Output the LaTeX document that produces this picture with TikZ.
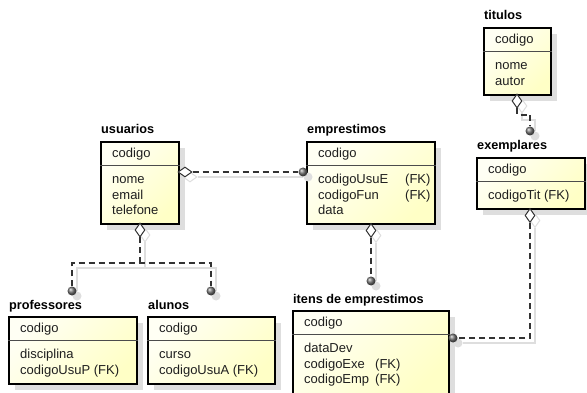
\documentclass[tikz,border=0pt]{standalone}
\usepackage{fontspec}
\setmainfont{Liberation Sans}
\usetikzlibrary{shapes.geometric,shadows,calc}
\definecolor{eyA}{RGB}{255,255,244}
\definecolor{eyB}{RGB}{255,255,198}
\definecolor{lnC}{RGB}{51,51,51}
\definecolor{shC}{RGB}{222,222,222}
\tikzset{
 ebox/.style={draw=black, line width=1.9pt, top color=eyA, bottom color=eyB, shading angle=45, inner sep=0pt,
   drop shadow={shadow xshift=6pt, shadow yshift=-6pt, fill=shC, opacity=1}},
 divline/.style={draw=black!70, line width=0.9pt},
 etext/.style={font=\fontsize{13}{15}\selectfont, text=black!88, inner sep=0pt},
 etitle/.style={font=\fontsize{12.7}{15}\selectfont\bfseries, text=black, inner sep=0pt},
 rel/.style={draw=lnC, line width=1.2pt, dash pattern=on 6pt off 4pt},
 relsh/.style={draw=shC, line width=1.2pt},
 hdia/.style={diamond, draw=lnC, fill=white, line width=1pt, inner sep=0pt, minimum width=14pt, minimum height=10pt},
 vdia/.style={hdia, minimum width=10pt, minimum height=14pt},
 hdiash/.style={hdia, draw=shC},
 vdiash/.style={vdia, draw=shC},
 bl/.style={circle, inner sep=0pt, minimum size=9pt, ball color=black!55},
 blsh/.style={circle, inner sep=0pt, minimum size=9pt, fill=shC},
}
% #1 name, #2 x, #3 y, #4 width, #5 number of attribute lines, #6 title, #7 key, #8 attributes
\newcommand\mkent[8]{%
 \node[ebox, minimum width=#4, minimum height={36+15.5*#5}, anchor=north west] (#1) at (#2,#3) {};
 \draw[divline] ([yshift=-24.5pt]#1.north west) -- ([yshift=-24.5pt]#1.north east);
 \node[etitle, anchor=base west] (#1-t) at ([xshift=1pt,yshift=7pt]#1.north west) {#6};
 \node[etext, anchor=base west] (#1-k) at ([xshift=12pt,yshift=-16.5pt]#1.north west) {#7};
 \foreach \a [count=\i] in {#8} {
   \node[etext, anchor=base west] (#1-a\i) at ([xshift=12pt,yshift={-(42.5+15.6*(\i-1))}]#1.north west) {\a};
 }%
}
\begin{document}
\begin{tikzpicture}[x=1pt,y=-1pt]
\fill[white] (0,0) rectangle (587,393);
\useasboundingbox (0,0) rectangle (587,393);

% entities
\mkent{tit}{483}{27}{67}{2}{titulos}{codigo}{nome,autor}
\mkent{exe}{476}{157}{108}{1}{exemplares}{codigo}{codigoTit (FK)}
\mkent{usu}{100}{141}{78}{3}{usuarios}{codigo}{nome,email,telefone}
\mkent{emp}{306}{141}{128}{3}{emprestimos}{codigo}{\makebox[87pt][l]{codigoUsuE}(FK),\makebox[87pt][l]{codigoFun}(FK),data}
\mkent{pro}{8}{316}{128}{2}{professores}{codigo}{disciplina,codigoUsuP (FK)}
\mkent{alu}{147}{316}{127}{2}{alunos}{codigo}{curso,codigoUsuA (FK)}
\mkent{ite}{292}{310}{156}{3}{itens de emprestimos}{codigo}{dataDev,\makebox[71pt][l]{codigoExe}(FK),\makebox[71pt][l]{codigoEmp}(FK)}

% connector shadows
\node[hdiash] (dm1s) at (190,177) {};
\node[blsh] (b1s) at (308,177) {};
\draw[relsh] (dm1s.east) -- (b1s.west);

\node[vdiash] (dm2s) at (145,235) {};
\coordinate (j2s) at (145,268);
\node[blsh] (b2s) at (77,296) {};
\node[blsh] (b3s) at (216,296) {};
\draw[relsh] (dm2s.south) -- (j2s);
\draw[relsh] (b2s.north) |- (j2s) -| (b3s.north);

\node[vdiash] (dm3s) at (376,235.5) {};
\node[blsh] (b4s) at (376,286) {};
\draw[relsh] (dm3s.south) -- (b4s.north);

\node[vdiash] (dm4s) at (522,106) {};
\coordinate (j4as) at (522,120);
\node[blsh] (b5s) at (535,136) {};
\draw[relsh] (dm4s.south) -- (j4as) -| (b5s.north);

\node[vdiash] (dm5s) at (535,220.5) {};
\coordinate (j5s) at (535,343);
\node[blsh] (b6s) at (458,343) {};
\draw[relsh] (dm5s.south) -- (j5s) -- (b6s.east);

% connectors
\node[hdia] (dm1) at (185,172) {};
\node[bl] (b1) at (303,172) {};
\draw[rel] (dm1.east) -- (b1.west);

\node[vdia] (dm2) at (140,230) {};
\coordinate (j2) at (140,263);
\node[bl] (b2) at (72,291) {};
\node[bl] (b3) at (211,291) {};
\draw[rel] (dm2.south) -- (j2);
\draw[rel] (b2.north) |- (j2) -| (b3.north);

\node[vdia] (dm3) at (371,230.5) {};
\node[bl] (b4) at (371,281) {};
\draw[rel] (dm3.south) -- (b4.north);

\node[vdia] (dm4) at (517,101) {};
\coordinate (j4a) at (517,115);
\node[bl] (b5) at (530,131) {};
\draw[rel] (dm4.south) -- (j4a) -| (b5.north);

\node[vdia] (dm5) at (530,215.5) {};
\coordinate (j5) at (530,338);
\node[bl] (b6) at (453,338) {};
\draw[rel] (dm5.south) -- (j5) -- (b6.east);
\end{tikzpicture}
\end{document}
